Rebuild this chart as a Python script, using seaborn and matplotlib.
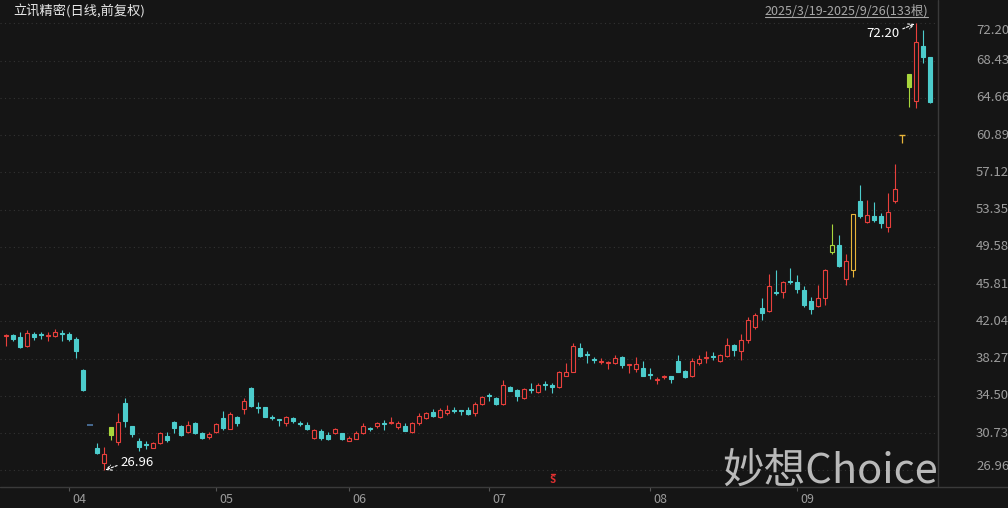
# plot.py
# Daily candlestick chart of 立讯精密, 2025/3/19 - 2025/9/26 (133 sessions)
# Output: out.png (1008x508)

import pandas as pd
import matplotlib
matplotlib.use("Agg")
import matplotlib.pyplot as plt
import matplotlib.transforms as mtransforms
from matplotlib.lines import Line2D
import seaborn as sns

# ---------------------------
# 1. Data
# ---------------------------
opens = [40.53, 40.68, 40.48, 39.60, 40.78, 40.73, 40.53, 40.58, 40.83, 40.78,
         40.30, 37.17, 31.60, 29.20, 27.69, 30.52, 29.82, 33.83, 31.50, 29.92,
         29.60, 29.25, 29.72, 30.42, 31.88, 31.50, 30.80, 31.78, 30.70, 30.37,
         30.80, 32.28, 31.20, 32.38, 33.16, 35.31, 33.41, 33.36, 32.38, 32.13,
         31.78, 32.28, 31.78, 31.60, 30.22, 30.90, 30.52, 30.70, 30.70, 29.97,
         30.17, 30.70, 31.25, 31.45, 31.78, 31.73, 31.40, 31.50, 30.80, 31.73,
         32.28, 32.91, 32.38, 32.76, 33.11, 33.06, 33.06, 32.76, 33.73, 34.58,
         34.33, 33.73, 35.41, 35.11, 34.33, 35.16, 34.91, 35.74, 35.59, 35.41,
         36.54, 36.97, 39.32, 38.77, 38.19, 37.89, 37.84, 37.84, 38.44, 37.59,
         37.27, 37.37, 36.67, 36.09, 36.39, 36.49, 38.04, 37.07, 36.49, 37.79,
         38.29, 38.49, 38.04, 38.57, 39.70, 39.02, 40.20, 41.45, 43.41, 43.13,
         45.04, 44.99, 46.11, 46.06, 45.19, 44.06, 43.61, 44.39, 49.10, 49.77,
         46.34, 47.24, 54.25, 52.13, 52.71, 52.71, 51.56, 54.25, 60.95, 65.73,
         64.35, 69.91, 68.83]
highs = [40.73, 40.78, 40.98, 41.18, 40.98, 40.98, 40.98, 41.28, 41.18, 40.98,
         40.48, 37.27, 31.60, 29.75, 29.35, 31.40, 32.78, 34.33, 31.50, 30.22,
         29.92, 29.82, 30.82, 30.82, 31.98, 31.55, 31.98, 31.88, 30.80, 30.80,
         31.78, 33.01, 32.86, 32.48, 34.33, 35.41, 33.84, 33.41, 32.58, 32.13,
         32.48, 32.33, 31.98, 31.88, 31.15, 31.15, 30.80, 31.25, 30.75, 30.42,
         30.90, 31.78, 31.40, 31.88, 32.08, 32.38, 31.98, 31.78, 31.88, 32.76,
         32.86, 33.16, 33.26, 33.56, 33.36, 33.06, 33.36, 33.93, 34.53, 34.81,
         34.43, 36.09, 35.51, 35.21, 35.31, 35.79, 35.79, 35.99, 35.79, 37.07,
         37.80, 39.81, 39.90, 39.07, 38.44, 38.34, 38.04, 38.62, 38.52, 37.74,
         38.44, 38.04, 37.37, 36.39, 36.64, 36.54, 38.62, 37.12, 38.34, 38.62,
         39.02, 38.92, 38.72, 40.35, 39.80, 40.78, 42.45, 42.93, 44.41, 46.84,
         47.24, 46.16, 47.44, 46.74, 45.66, 44.56, 45.76, 47.34, 51.89, 50.75,
         48.90, 52.93, 55.84, 54.33, 54.15, 52.98, 55.06, 57.97, 60.95, 67.05,
         72.20, 71.53, 68.85]
lows = [39.60, 40.10, 39.32, 39.50, 40.20, 40.30, 40.10, 40.48, 40.10, 40.10,
        38.34, 35.01, 31.60, 28.57, 26.96, 30.02, 29.52, 31.40, 30.32, 28.95,
        29.15, 29.20, 29.65, 29.82, 30.70, 30.47, 30.70, 30.62, 30.12, 30.17,
        30.70, 31.05, 31.10, 31.50, 32.66, 33.36, 32.76, 32.33, 32.08, 31.50,
        31.50, 31.78, 31.50, 31.00, 30.12, 30.02, 30.02, 30.62, 30.02, 29.92,
        30.12, 30.62, 30.90, 31.30, 31.05, 31.70, 31.20, 30.90, 30.70, 31.60,
        32.18, 32.38, 32.28, 32.58, 32.76, 32.61, 32.58, 32.48, 33.63, 34.03,
        33.63, 33.63, 34.96, 34.03, 34.23, 34.76, 34.81, 35.11, 34.81, 35.31,
        36.49, 36.87, 38.44, 37.79, 37.79, 37.74, 37.27, 37.74, 37.37, 36.77,
        36.87, 36.49, 36.19, 35.69, 36.19, 35.84, 36.87, 36.34, 36.39, 37.64,
        37.84, 38.14, 37.94, 38.44, 38.57, 38.14, 39.90, 41.28, 42.15, 43.03,
        44.69, 44.39, 45.86, 44.89, 43.51, 42.83, 43.46, 43.71, 48.85, 47.52,
        45.76, 46.50, 52.47, 52.03, 52.13, 51.46, 51.12, 54.05, 60.13, 63.71,
        63.60, 68.22, 64.10]
closes = [40.63, 40.25, 39.50, 40.88, 40.48, 40.68, 40.63, 40.98, 40.73, 40.30,
          39.02, 35.11, 31.60, 28.77, 28.57, 31.40, 31.88, 31.98, 30.62, 29.35,
          29.50, 29.72, 30.72, 30.02, 31.30, 30.52, 31.60, 30.70, 30.22, 30.62,
          31.70, 31.30, 32.68, 31.78, 34.03, 33.46, 33.31, 32.38, 32.28, 32.03,
          32.38, 31.93, 31.70, 31.10, 31.05, 30.22, 30.12, 31.20, 30.12, 30.22,
          30.72, 31.50, 31.15, 31.78, 31.70, 31.83, 31.78, 30.95, 31.78, 32.48,
          32.76, 32.48, 33.06, 33.06, 33.01, 32.96, 32.66, 33.73, 34.43, 34.48,
          33.73, 35.59, 35.01, 34.53, 35.21, 35.06, 35.59, 35.64, 35.41, 36.87,
          36.97, 39.52, 38.52, 38.67, 38.09, 37.99, 37.94, 38.34, 37.64, 37.69,
          37.74, 36.54, 36.59, 36.19, 36.54, 36.19, 36.97, 36.39, 38.04, 38.24,
          38.39, 38.39, 38.62, 39.70, 39.12, 40.20, 42.15, 42.73, 42.93, 45.66,
          44.94, 46.06, 46.01, 45.29, 43.71, 43.28, 44.39, 47.24, 49.77, 47.62,
          48.12, 52.93, 52.71, 52.81, 52.30, 52.03, 53.14, 55.41, 60.95, 67.05,
          70.29, 68.77, 64.28]

# month labels and the session index of each month's first trading day
month_labels = ["04", "05", "06", "07", "08", "09"]
month_starts = [9, 30, 49, 69, 92, 113]

# price scale labels on the right
y_ticks = [72.20, 68.43, 64.66, 60.89, 57.12, 53.35, 49.58,
           45.81, 42.04, 38.27, 34.50, 30.73, 26.96]

# sessions drawn in special colours by the terminal
flat_bars = [12]           # one-price limit-down
lime_filled = [15, 129]
lime_hollow = [118]
gold_hollow = [121]
t_bars = [128]             # T-shaped one-price limit-up

# ---------------------------
# 2. Style
# ---------------------------
BG = "#151515"
RED = "#e8403c"
CYAN = "#4ccccc"
LIME = "#a8d63c"
GOLD = "#e8b53a"
FLAT = "#4f78a6"
GRID = "#3a3a3a"
LABEL = "#9c9c9c"

sns.set_theme(style="dark", rc={"axes.facecolor": BG, "figure.facecolor": BG})
plt.rcParams["font.family"] = ["Noto Sans CJK SC", "DejaVu Sans"]

df = pd.DataFrame({"open": opens, "high": highs, "low": lows, "close": closes})
df["idx"] = range(len(df))

# colour / fill of every candle
colors, faces = [], []
for i, r in df.iterrows():
    if i in lime_filled:
        c, f = LIME, LIME
    elif i in lime_hollow:
        c, f = LIME, BG
    elif i in gold_hollow:
        c, f = GOLD, BG
    elif i in t_bars:
        c, f = GOLD, GOLD
    elif i in flat_bars:
        c, f = FLAT, FLAT
    elif r["close"] >= r["open"]:
        c, f = RED, BG
    else:
        c, f = CYAN, CYAN
    colors.append(c)
    faces.append(f)
df["color"] = colors
df["face"] = faces

W, H = 1008, 508
fig = plt.figure(figsize=(W / 100, H / 100), dpi=100)
ax = fig.add_axes([0, (H - 487.3) / H, 938 / W, 487.3 / H])
ax.set_facecolor(BG)
ax.set_xlim(-6 / 7, (938 - 6) / 7)
ax.set_ylim(25.25, 74.57)
for s in ax.spines.values():
    s.set_visible(False)

# dotted price grid
for v in y_ticks:
    ax.axhline(v, color="#333333", lw=0.8, ls=(0, (1, 3)), zorder=0)

# ---------------------------
# 3. Candles
# ---------------------------
normal = df[~df["idx"].isin(flat_bars + t_bars)]
ax.vlines(normal["idx"], normal["low"], normal["high"], colors=normal["color"], lw=0.8, zorder=2)
body_lo = normal[["open", "close"]].min(axis=1)
body_h = (normal["close"] - normal["open"]).abs().clip(lower=0.02)
ax.bar(normal["idx"], body_h, bottom=body_lo, width=0.7,
       color=normal["face"], edgecolor=normal["color"], linewidth=0.8, zorder=3)

for i in flat_bars:
    ax.hlines(df.loc[i, "close"], i - 0.45, i + 0.45, color=FLAT, lw=1.2, zorder=3)
for i in t_bars:
    ax.vlines(i, df.loc[i, "low"], df.loc[i, "high"], color=GOLD, lw=0.9, zorder=3)
    ax.hlines(df.loc[i, "high"], i - 0.42, i + 0.42, color=GOLD, lw=1.0, zorder=3)

# high / low markers
hi = df["high"].idxmax()
lo = df["low"].idxmin()
ax.annotate(f"{df.loc[hi, 'high']:.2f}", xy=(hi, df.loc[hi, "high"]), xytext=(-33, -10),
            textcoords="offset pixels", ha="center", va="center", color="white", fontsize=9.5,
            arrowprops=dict(arrowstyle="->", color="white", lw=0.8, linestyle=(0, (2, 1.5)),
                            relpos=(1.0, 0.75), shrinkA=0, shrinkB=1), zorder=5)
ax.annotate(f"{df.loc[lo, 'low']:.2f}", xy=(lo, df.loc[lo, "low"]), xytext=(33, 8),
            textcoords="offset pixels", ha="center", va="center", color="white", fontsize=9.5,
            arrowprops=dict(arrowstyle="->", color="white", lw=0.8, linestyle=(0, (2, 1.5)),
                            relpos=(0.0, 0.35), shrinkA=0, shrinkB=1), zorder=5)

# ---------------------------
# 4. Axes text
# ---------------------------
ax.set_yticks([])
ax.set_xticks(month_starts)
ax.set_xticklabels([])
ax.tick_params(axis="x", length=3, color="#555555", width=0.8, direction="out", bottom=True)
ax.grid(False)

xt = mtransforms.blended_transform_factory(ax.transData, ax.transAxes)
for lab, m in zip(month_labels, month_starts):
    ax.annotate(lab, xy=(m, 0), xycoords=xt, xytext=(3, -12), textcoords="offset pixels",
                ha="left", va="center", color=LABEL, fontsize=9, annotation_clip=False)

yt = mtransforms.blended_transform_factory(ax.transAxes, ax.transData)
for k, v in enumerate(y_ticks):
    dy = -6.6 if k == 0 else (3.6 if k == len(y_ticks) - 1 else 0)
    ax.annotate(f"{v:.2f}", xy=(976 / 938, v), xycoords=yt, xytext=(0, dy),
                textcoords="offset pixels", ha="left", va="center", color=LABEL,
                fontsize=9.5, annotation_clip=False)

# frame lines
fig.add_artist(Line2D([938 / W, 938 / W], [1, (H - 487.3) / H], color=GRID, lw=1))
fig.add_artist(Line2D([0, 1], [(H - 487.3) / H] * 2, color=GRID, lw=1))

# header
fig.text(13 / W, 1 - 12 / H, "立讯精密(日线,前复权)", color="#e8e8e8", fontsize=9.5,
         ha="left", va="center")
fig.text(928 / W, 1 - 11 / H, "2025/3/19-2025/9/26(133根)", color="#a8a8a8", fontsize=9,
         ha="right", va="center")
fig.add_artist(Line2D([765 / W, 928 / W], [1 - 17 / H] * 2, color="#a8a8a8", lw=0.8))

# event marker
fig.text(553 / W, 1 - 480 / H, "S", color="#e03030", fontsize=7, fontweight="bold",
         ha="center", va="center")
fig.add_artist(Line2D([551 / W, 555 / W], [1 - 474 / H] * 2, color="#e03030", lw=1))

# watermark
fig.text(722 / W, 1 - 483 / H, "妙想Choice", color="#c8c8c8", fontsize=30,
         ha="left", va="baseline", alpha=0.92)

fig.savefig("out.png", dpi=100, facecolor=BG)
